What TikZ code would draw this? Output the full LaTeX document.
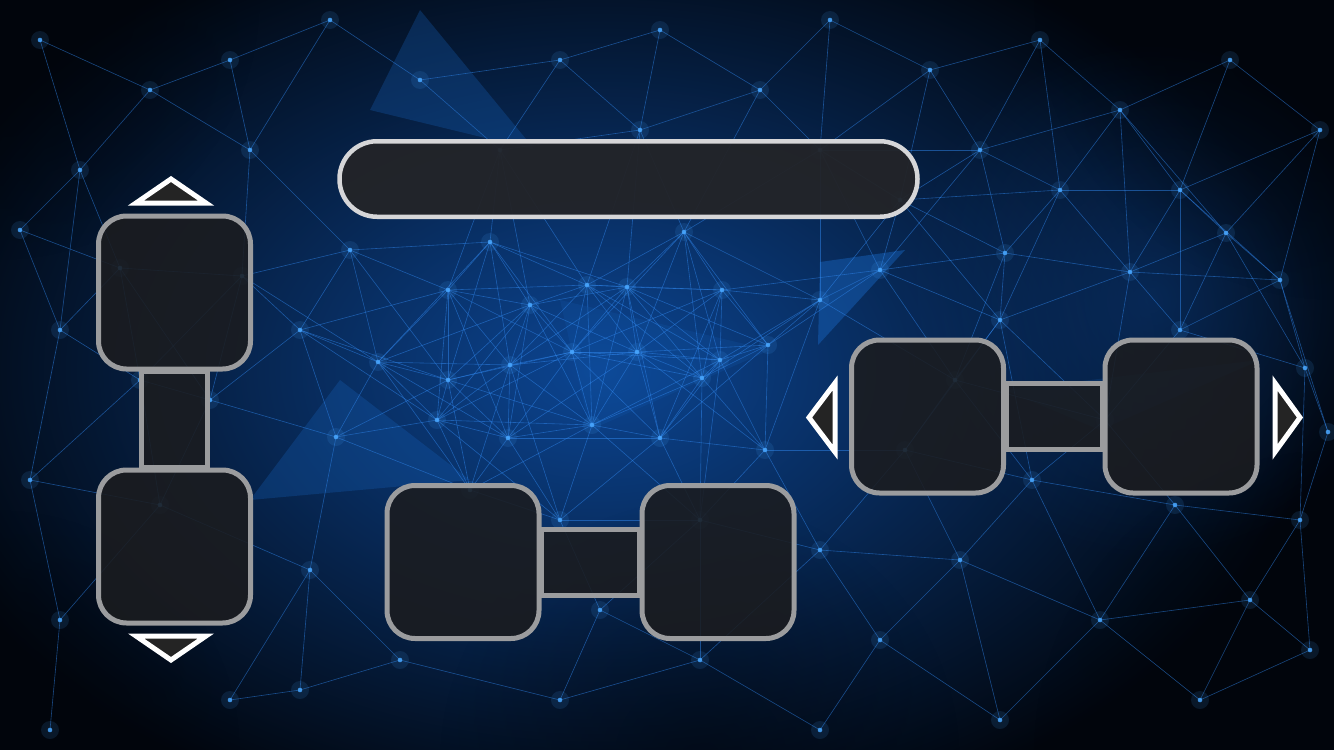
\documentclass[tikz,border=0pt]{standalone}
\usetikzlibrary{calc,fadings}
\tikzfading[name=softdisc, inner color=transparent!0, outer color=transparent!100]
\definecolor{bgdark}{HTML}{01050C}
\definecolor{bgblue}{HTML}{0C4592}
\definecolor{bgmid}{HTML}{0A3672}
\definecolor{netblue}{HTML}{3088F0}
\definecolor{dotblue}{HTML}{4AA8FF}
\definecolor{boxgray}{HTML}{9B9C9E}
\definecolor{bargray}{HTML}{D6D6D8}
\definecolor{boxfill}{HTML}{1B1C1F}
\definecolor{barfill}{HTML}{232428}
\definecolor{trifill}{HTML}{242424}
\definecolor{facet}{HTML}{1660B8}
\tikzset{
  net/.style={draw=netblue, line width=0.6pt, opacity=0.5},
  facetfill/.style={fill=facet, opacity=0.3},
  boxnode/.style={rectangle, rounded corners=28pt, draw=boxgray, line width=5pt,
    fill=boxfill, fill opacity=0.88, minimum width=152pt, minimum height=153pt, inner sep=0pt},
  barnode/.style={rectangle, rounded corners=37.5pt, draw=bargray, line width=4.5pt,
    fill=barfill, fill opacity=0.95, minimum width=578pt, minimum height=75.5pt, inner sep=0pt},
  linkbar/.style={draw=boxgray, line width=5pt, fill=boxfill, fill opacity=0.88},
  arrowtri/.style={draw=white, line width=5pt, fill=trifill, line join=miter, miter limit=10},
  darkfade/.style={fill=bgdark, path fading=softdisc},
  bluefade/.style={fill=bgmid, path fading=softdisc},
}
\def\ptlist{40/40,150/90,230/60,330/20,420/80,560/60,660/30,760/90,830/20,930/70,1040/40,1120/110,1230/60,1320/130,80/170,250/150,500/150,20/230,60/330,120/268,242/276,210/400,300/330,378/362,448/290,490/242,530/305,587/285,627/287,684/232,722/290,768/345,720/360,637/352,572/352,510/365,448/380,336/437,437/420,508/438,592/425,660/438,702/378,765/450,820/300,880/270,1005/253,1130/272,1226/233,1180/330,1305/368,1328/432,1060/190,1280/280,900/200,30/480,160/505,310/570,60/620,230/700,470/490,560/520,700/520,820/550,960/560,1032/480,1175/505,1300/520,1100/620,880/640,700/660,560/700,400/660,300/690,1200/700,1000/720,50/730,1310/650,820/730,905/450,1105/420,955/380,350/250,640/130,980/150,1180/190,1250/600,140/380,600/610,1000/320,820/150}
\begin{document}
\begin{tikzpicture}[x=1pt,y=-1pt]
\useasboundingbox (0,0) rectangle (1334,750);
% background
\fill[bgdark] (0,0) rectangle (1334,750);
\begin{scope}
\clip (0,0) rectangle (1334,750);
\shade[inner color=bgblue, outer color=bgdark] (600,370) ellipse (720 and 480);
\fill[bluefade, opacity=0.6] (1150,300) circle (260);
% translucent facets
\fill[facetfill] (420,10) -- (370,110) -- (535,150) -- cycle;
\fill[facetfill] (340,380) -- (250,500) -- (470,480) -- cycle;
\fill[facetfill, opacity=0.5] (820,262) -- (905,250) -- (818,345) -- cycle;
\fill[facetfill, opacity=0.2] (1005,390) -- (1260,360) -- (1100,430) -- cycle;
\fill[facetfill, opacity=0.18] (560,300) -- (770,350) -- (590,430) -- cycle;
% soft dark corners
\fill[darkfade, opacity=0.85] (1334,0) circle (300);
\fill[darkfade, opacity=0.75] (1334,750) circle (300);
\fill[darkfade, opacity=0.6] (0,750) circle (240);
\fill[darkfade, opacity=0.7] (0,0) circle (260);
\fill[darkfade, opacity=0.5] (700,760) circle (260);
% network
\foreach \xa/\ya [count=\i] in \ptlist {
  \coordinate (p\i) at (\xa,\ya);
}
\foreach \xa/\ya [count=\i] in \ptlist {
  \foreach \xb/\yb [count=\j] in \ptlist {
    \ifnum\j>\i
      \pgfmathsetmacro\dd{veclen(\xb-\xa,\yb-\ya)}
      \ifdim\dd pt<165pt
        \draw[net] (p\i) -- (p\j);
      \fi
    \fi
  }
}
\foreach \xa/\ya [count=\i] in \ptlist {
  \fill[dotblue, opacity=0.12] (p\i) circle (9);
  \fill[dotblue, opacity=0.85] (p\i) circle (2.3);
}
\end{scope}
% title bar
\node[barnode] (title) at (628.5,179) {};
% left column
\node[boxnode] (ltop) at (174.5,292.5) {};
\node[boxnode] (lbot) at (174.5,546.5) {};
\draw[linkbar] ($(ltop.south)+(-33,0)$) rectangle ($(lbot.north)+(33,0)$);
% bottom pair
\node[boxnode] (bl) at (463,562) {};
\node[boxnode] (br) at (718,562) {};
\draw[linkbar] ($(bl.east)+(0,-33)$) rectangle ($(br.west)+(0,33)$);
% right pair
\node[boxnode] (rl) at (927.5,416.5) {};
\node[boxnode] (rr) at (1181,416.5) {};
\draw[linkbar] ($(rl.east)+(0,-33)$) rectangle ($(rr.west)+(0,33)$);
% triangles
\draw[arrowtri] (171,179) -- (206,203) -- (136,203) -- cycle;
\draw[arrowtri] (136,636) -- (206,636) -- (171,660) -- cycle;
\draw[arrowtri] (835,383) -- (835,452) -- (809,417.5) -- cycle;
\draw[arrowtri] (1275,383) -- (1300,417.5) -- (1275,452) -- cycle;
\end{tikzpicture}
\end{document}
